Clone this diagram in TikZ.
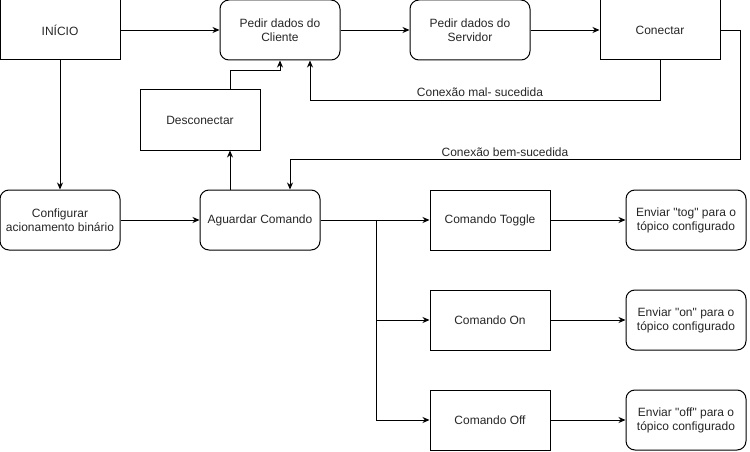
\documentclass[tikz,border=0pt]{standalone}
\usepackage{fontspec}
\setmainfont{Liberation Sans}
\usetikzlibrary{arrows.meta,calc}
\begin{document}
\begin{tikzpicture}[x=1pt,y=-1pt,
  every node/.style={font=\fontsize{12}{14}\selectfont, align=center, text=black!85},
  box/.style={draw, line width=1pt, minimum width=120pt, minimum height=60pt, inner sep=0pt},
  rbox/.style={box, rounded corners=9pt},
  lbl/.style={font=\fontsize{12}{14}\selectfont, inner sep=2pt},
  arr/.style={-{Stealth[length=7pt,width=6pt]}, line width=0.9pt}]
\useasboundingbox (0,0) rectangle (750,452);
\node[box]  (ini)  at (60,30)  {INÍCIO};
\node[rbox] (cli)  at (280,30) {Pedir dados do\\Cliente};
\node[rbox] (srv)  at (470,30) {Pedir dados do\\Servidor};
\node[box]  (con)  at (660,30) {Conectar};
\node[box]  (des)  at (200,120) {Desconectar};
\node[rbox] (cfg)  at (60,220) {Configurar\\acionamento binário};
\node[rbox] (agu)  at (260,220) {Aguardar Comando};
\node[box]  (tog)  at (490,220) {Comando Toggle};
\node[box]  (on)   at (490,320) {Comando On};
\node[box]  (off)  at (490,420) {Comando Off};
\node[rbox] (etog) at (686,220) {Enviar \textquotedbl tog\textquotedbl{} para o\\tópico configurado};
\node[rbox] (eon)  at (686,320) {Enviar \textquotedbl on\textquotedbl{} para o\\tópico configurado};
\node[rbox] (eoff) at (686,420) {Enviar \textquotedbl off\textquotedbl{} para o\\tópico configurado};

\draw[arr] (ini) -- (cli);
\draw[arr] (cli) -- (srv);
\draw[arr] (srv) -- (con);
\draw[arr] (ini) -- (cfg);
\draw[arr] (cfg) -- (agu);
\draw[arr] ($(agu.north)+(-30,0)$) -- ($(des.south)+(30,0)$);
\draw[arr] ($(des.north)+(30,0)$) |- ($(cli.south)+(0,10)$) -- (cli.south);
\draw[arr] (con.south) -- ++(0,40) coordinate (m1)
  -| ($(cli.south)+(30,0)$);
\node[lbl, anchor=south] (lmal) at (480,99) {Conexão mal- sucedida};
\draw[arr] (con.east) -- ++(20,0) |- ($(agu.north)+(30,-30)$) -- ($(agu.north)+(30,0)$);
\node[lbl, anchor=south] (lbem) at (505,159) {Conexão bem-sucedida};
\draw[arr] (agu.east) -- (tog.west);
\draw[arr] (agu.east) -- ++(56,0) |- (on.west);
\draw[arr] (agu.east) -- ++(56,0) |- (off.west);
\draw[arr] (tog) -- (etog);
\draw[arr] (on) -- (eon);
\draw[arr] (off) -- (eoff);
\end{tikzpicture}
\end{document}
